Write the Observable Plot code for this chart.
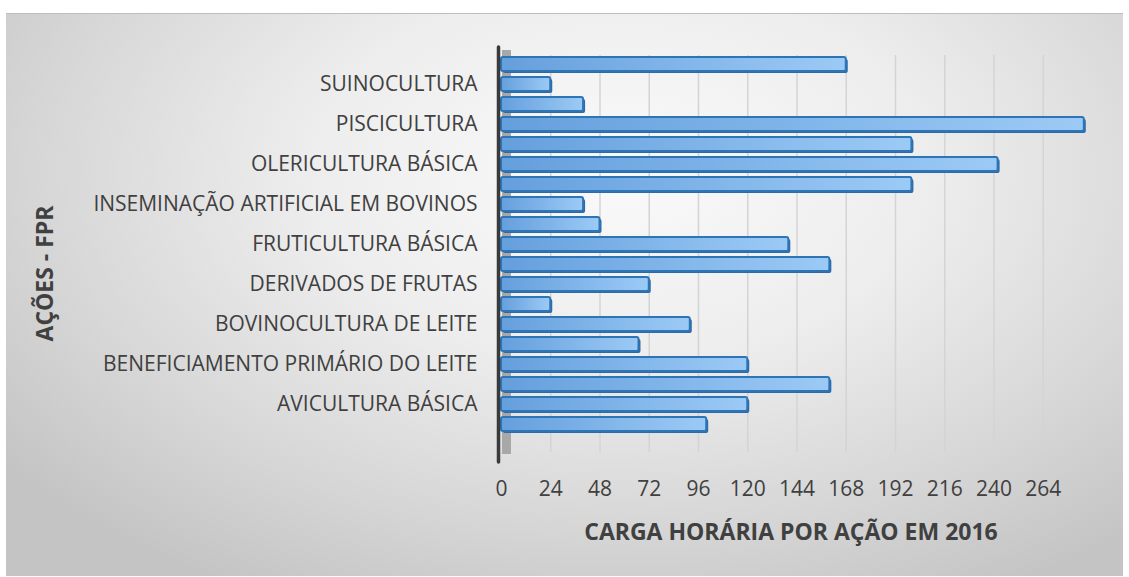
<!DOCTYPE html>
<html>
<head>
<meta charset="utf-8">
<script src="https://cdn.jsdelivr.net/npm/d3@7"></script>
<script src="https://cdn.jsdelivr.net/npm/@observablehq/plot@0.6"></script>
<style>
  html, body { margin: 0; padding: 0; background: #ffffff; }
  #wrap { position: relative; width: 1129px; height: 577px; overflow: hidden; background: #fff; }
  #bg { position: absolute; left: 6px; top: 13px; width: 1117px; height: 562px;
        border-top: 1px solid #bdbdbd;
        background: radial-gradient(ellipse 70% 85% at 55% 28%, #fafafa 0%, #ededed 40%, #d6d6d6 75%, #c4c4c4 100%); }
  #chart { position: absolute; left: 0; top: 0; }
  #chart svg { overflow: visible; }
</style>
</head>
<body>
<div id="wrap"><div id="bg"></div><div id="chart"></div></div>
<script>
// Categories, top to bottom (only every other one is labelled in the source chart)
const labels = [
  "", "SUINOCULTURA", "", "PISCICULTURA", "", "OLERICULTURA BÁSICA", "",
  "INSEMINAÇÃO ARTIFICIAL EM BOVINOS", "", "FRUTICULTURA BÁSICA", "",
  "DERIVADOS DE FRUTAS", "", "BOVINOCULTURA DE LEITE", "",
  "BENEFICIAMENTO PRIMÁRIO DO LEITE", "", "AVICULTURA BÁSICA", ""
];
// Carga horária (hours) per action, same order
const values = [168, 24, 40, 284, 200, 242, 200, 40, 48, 140, 160, 72, 24, 92, 67, 120, 160, 120, 100];
const xTicks = [0, 24, 48, 72, 96, 120, 144, 168, 192, 216, 240, 264];
const xTitle = "CARGA HORÁRIA POR AÇÃO EM 2016";
const yTitle = "AÇÕES - FPR";

const data = values.map((v, i) => ({i, label: labels[i], value: v}));
const idx = d3.range(values.length);

const defs = () => {
  const ns = "http://www.w3.org/2000/svg";
  const d = document.createElementNS(ns, "defs");
  d.innerHTML = `<linearGradient id="barGrad" x1="0" x2="1" y1="0" y2="0">
      <stop offset="0%" stop-color="#659fdc"/>
      <stop offset="100%" stop-color="#9ccaf6"/>
    </linearGradient>`;
  return d;
};

const font = "'Open Sans', 'Noto Sans', sans-serif";
const textColor = "#404040";

const chart = Plot.plot({
  width: 1129,
  height: 577,
  marginLeft: 501,
  marginRight: 37,
  marginTop: 44,
  marginBottom: 133,
  style: {background: "transparent", fontFamily: font, fontSize: "21px", color: textColor},
  x: {domain: [0, 288], ticks: xTicks, tickSize: 0, tickPadding: 37, label: null},
  y: {domain: idx, padding: 0.3, tickSize: 0, tickPadding: 24, label: null,
      tickFormat: i => labels[i]},
  marks: [
    defs,
    Plot.ruleX(xTicks.filter(t => t > 0), {stroke: "#d4d4d4", strokeWidth: 1.5, insetTop: 11, insetBottom: -8}),
    Plot.ruleX([0], {stroke: "#a8a8a8", strokeWidth: 9, dx: 5, insetTop: 6, insetBottom: -10}),
    Plot.barX(data, {x: "value", y: "i", fill: "#2d6aaa", dx: 2, dy: 2, rx: 2}),
    Plot.barX(data, {x: "value", y: "i", fill: "url(#barGrad)", stroke: "#2e75b6", strokeWidth: 2, rx: 2}),
    Plot.ruleX([0], {stroke: "#3a3a3a", strokeWidth: 3.5, dx: -3, insetTop: 3, insetBottom: -18, strokeLinecap: "round"}),
    Plot.text([xTitle], {frameAnchor: "bottom", textAnchor: "middle", dy: 95, dx: -6, fontSize: 23, fontWeight: "bold", fill: textColor}),
    Plot.text([yTitle], {frameAnchor: "left", textAnchor: "middle", dx: -456, dy: 29, rotate: -90, fontSize: 23, fontWeight: "bold", fill: textColor})
  ]
});
document.getElementById("chart").appendChild(chart);
</script>
</body>
</html>
